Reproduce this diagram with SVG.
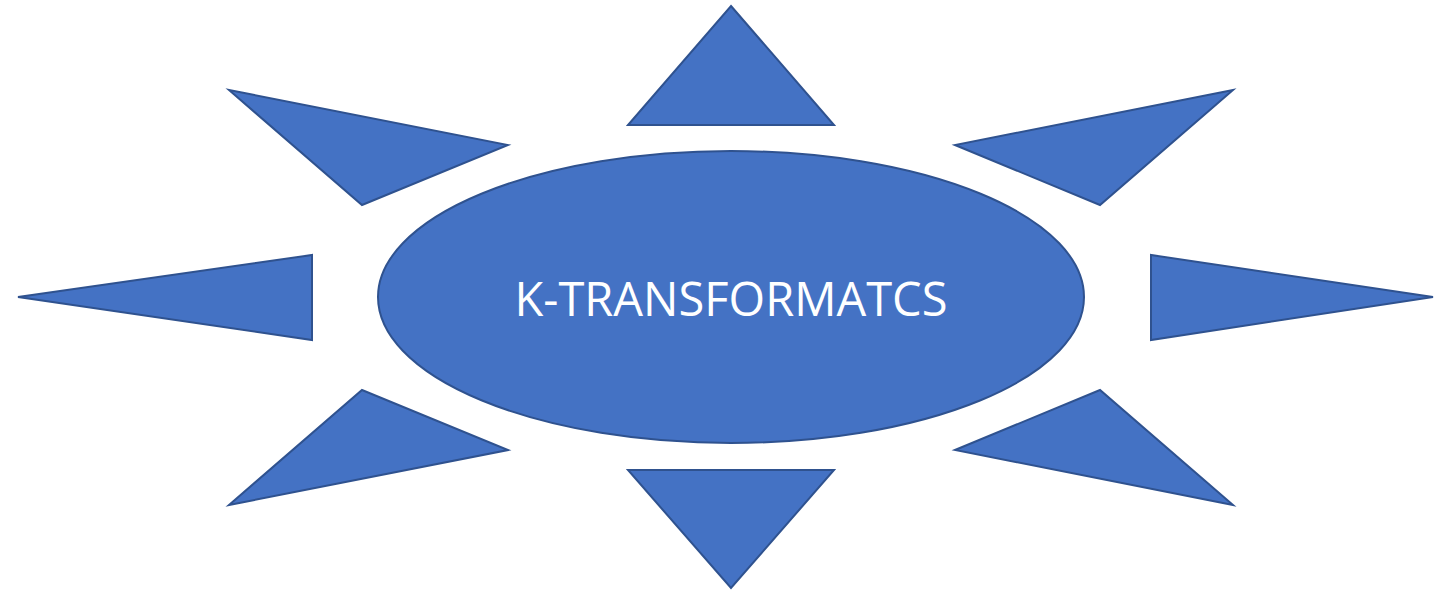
<svg xmlns="http://www.w3.org/2000/svg" width="1435" height="591" viewBox="0 0 1435 591">
<style>
.s{fill:#4472C4;stroke:#2F528F;stroke-width:2;stroke-linejoin:miter}
.t{fill:#FFFFFF;font-family:"Open Sans","Liberation Sans",sans-serif;font-size:48px}
</style>
<rect width="1435" height="591" fill="#FFFFFF"/>
<g id="ray-top"><polygon class="s" points="731,6 834,125 628,125"/></g>
<g id="ray-upper-left"><polygon class="s" points="229,90 508,145 362,205"/></g>
<g id="ray-upper-right"><polygon class="s" points="1233,90 955,145 1100,205"/></g>
<g id="ray-left"><polygon class="s" points="18,297 312,255 312,340"/></g>
<g id="ray-right"><polygon class="s" points="1433,297 1151,255 1151,340"/></g>
<g id="ray-lower-left"><polygon class="s" points="362,390 508,450 229,505"/></g>
<g id="ray-lower-right"><polygon class="s" points="1100,390 955,450 1233,505"/></g>
<g id="ray-bottom"><polygon class="s" points="628,470 834,470 731,588"/></g>
<g id="center">
<ellipse class="s" cx="731" cy="297" rx="353" ry="146"/>
<text class="t" x="731" y="316" text-anchor="middle" textLength="433" lengthAdjust="spacingAndGlyphs">K-TRANSFORMATCS</text>
</g>
<g id="connectors"></g>
</svg>
